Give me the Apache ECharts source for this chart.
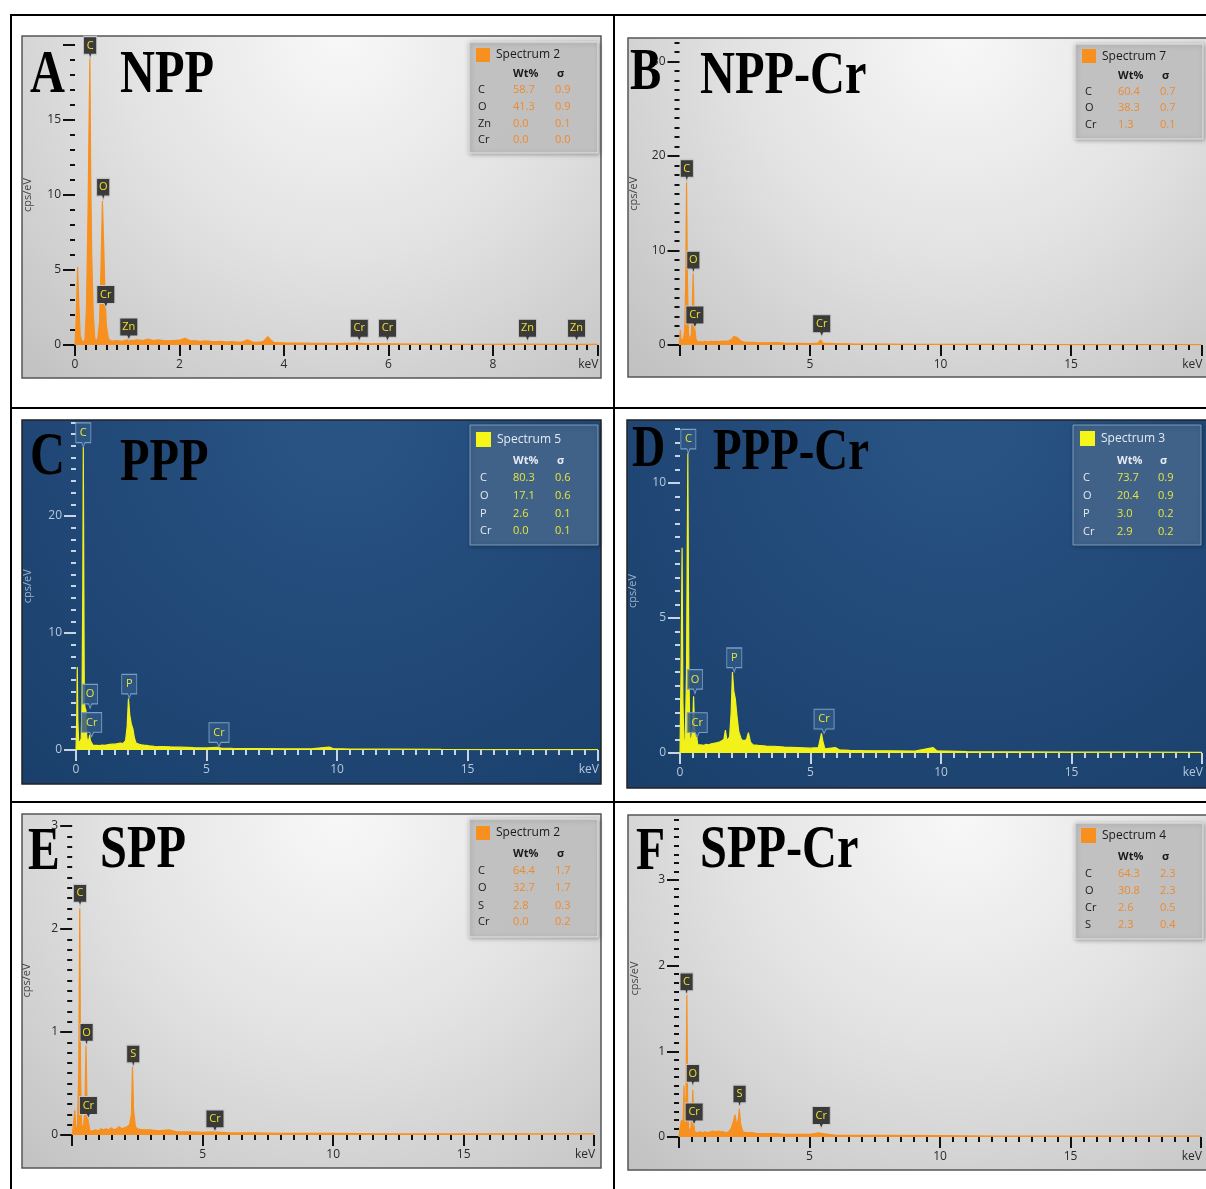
<!DOCTYPE html>
<html><head><meta charset="utf-8">
<script src="https://cdn.jsdelivr.net/npm/echarts@6/dist/echarts.min.js"></script>
<style>html,body{margin:0;padding:0;background:#fff}#c{width:1206px;height:1189px}</style>
</head><body><div id="c"></div>
<script>
// ---------------- DATA ----------------
const panelLetters = ['A','B','C','D','E','F'];
const panelNames = ['NPP','NPP-Cr','PPP','PPP-Cr','SPP','SPP-Cr'];
const spectrumNames = ['Spectrum 2','Spectrum 7','Spectrum 5','Spectrum 3','Spectrum 2','Spectrum 4'];

const xMax = [10,20,20,20,20,20];
const xStep = [2,5,5,5,5,5];
const xLabels = [[0,2,4,6,8],[5,10,15],[0,5,10,15],[0,5,10,15],[5,10,15],[5,10,15]];
const yMax = [20,32,28,12,3,3.7];
const yMajor = [[0,5,10,15,20],[0,10,20,30],[0,10,20],[0,5,10],[0,1,2,3],[0,1,2,3]];
const yLabels = [[0,5,10,15],[0,10,20,30],[0,10,20],[0,5,10],[0,1,2,3],[0,1,2,3]];
const yMinorStep = [1,1,1,0.5,0.1,0.1];

// spectra: [keV, cps/eV]
const specA = [[0,0],[0.02,1.5],[0.05,5.2],[0.07,3.0],[0.1,0.6],[0.14,0.2],[0.19,0.3],[0.22,2.5],[0.25,9],[0.27,15],[0.285,19.1],[0.3,11.5],[0.32,6],[0.35,2],[0.38,0.4],[0.43,0.3],[0.47,1.5],[0.5,5.5],[0.525,9.6],[0.55,6.5],[0.575,3.2],[0.6,1.3],[0.64,0.4],[0.7,0.25],[0.8,0.3],[0.9,0.25],[1.0,0.35],[1.1,0.3],[1.2,0.35],[1.3,0.3],[1.4,0.4],[1.5,0.3],[1.6,0.35],[1.7,0.3],[1.8,0.28],[1.9,0.3],[2.0,0.32],[2.1,0.45],[2.2,0.3],[2.3,0.28],[2.4,0.25],[2.5,0.27],[2.6,0.24],[2.7,0.22],[2.8,0.24],[2.9,0.2],[3.0,0.22],[3.1,0.2],[3.2,0.2],[3.3,0.35],[3.4,0.2],[3.5,0.18],[3.6,0.22],[3.65,0.4],[3.69,0.55],[3.74,0.35],[3.8,0.18],[3.9,0.16],[4.0,0.15],[4.5,0.12],[5.0,0.1],[5.41,0.12],[5.6,0.08],[6.0,0.08],[6.5,0.06],[7.0,0.06],[7.5,0.05],[8.0,0.05],[8.6,0.06],[9.0,0.04],[9.6,0.05],[10,0.04]];
const specB = [[0,0],[0.03,1.6],[0.06,0.5],[0.1,0.4],[0.15,0.6],[0.2,1.5],[0.24,7],[0.27,17.2],[0.3,7.5],[0.34,1.2],[0.4,0.5],[0.46,1.2],[0.5,5],[0.525,7.6],[0.55,4],[0.59,1.6],[0.63,0.6],[0.7,0.3],[0.8,0.35],[0.9,0.3],[1.0,0.38],[1.1,0.32],[1.2,0.38],[1.3,0.35],[1.4,0.4],[1.5,0.36],[1.6,0.4],[1.7,0.38],[1.8,0.42],[1.9,0.45],[2.0,0.6],[2.08,0.9],[2.13,1.05],[2.2,0.8],[2.3,0.55],[2.4,0.35],[2.5,0.3],[2.7,0.28],[3.0,0.25],[3.3,0.24],[3.7,0.26],[4.0,0.2],[4.5,0.18],[5.0,0.16],[5.3,0.2],[5.41,0.55],[5.5,0.2],[5.95,0.15],[6.5,0.12],[7,0.1],[8,0.09],[9,0.08],[10,0.07],[12,0.06],[14,0.05],[16,0.04],[18,0.04],[20,0.03]];
const specC = [[0,0],[0.03,3],[0.05,7.1],[0.07,2.5],[0.1,0.8],[0.15,0.6],[0.2,1.0],[0.23,4],[0.26,14],[0.28,25.9],[0.3,14],[0.32,4],[0.35,3.6],[0.38,3.4],[0.41,1.2],[0.45,0.6],[0.5,1.0],[0.525,1.3],[0.55,0.8],[0.6,0.9],[0.65,0.4],[0.7,0.35],[0.8,0.4],[0.9,0.38],[1.0,0.42],[1.1,0.4],[1.2,0.45],[1.3,0.48],[1.4,0.5],[1.5,0.5],[1.6,0.55],[1.7,0.6],[1.75,0.7],[1.8,0.55],[1.9,0.8],[1.96,2.0],[2.01,4.4],[2.06,3.0],[2.12,2.2],[2.18,1.8],[2.24,1.0],[2.3,0.6],[2.4,0.5],[2.5,0.45],[2.6,0.42],[2.7,0.4],[2.8,0.36],[3.0,0.32],[3.3,0.3],[3.6,0.27],[4.0,0.24],[4.5,0.2],[5.0,0.18],[5.41,0.22],[5.6,0.15],[6.0,0.14],[7.0,0.12],[8.0,0.1],[9.0,0.1],[9.7,0.25],[9.85,0.12],[10.5,0.08],[12,0.07],[14,0.05],[16,0.04],[18,0.03],[20,0.03]];
const specD = [[0,0],[0.04,3],[0.08,7.6],[0.11,2],[0.15,0.4],[0.2,0.5],[0.25,3],[0.3,11.1],[0.34,3],[0.38,0.6],[0.43,0.4],[0.48,0.9],[0.52,2.1],[0.56,0.9],[0.6,0.5],[0.64,0.6],[0.68,0.3],[0.8,0.3],[0.9,0.28],[1.0,0.32],[1.1,0.3],[1.2,0.34],[1.3,0.36],[1.4,0.38],[1.5,0.4],[1.6,0.45],[1.68,0.5],[1.74,0.85],[1.8,0.45],[1.9,0.6],[1.96,1.5],[2.01,3.0],[2.06,2.3],[2.12,2.0],[2.18,1.4],[2.25,0.8],[2.35,0.5],[2.45,0.45],[2.55,0.5],[2.62,0.75],[2.7,0.4],[2.8,0.3],[3.0,0.28],[3.3,0.26],[3.6,0.25],[4.0,0.22],[4.5,0.2],[5.0,0.18],[5.3,0.2],[5.37,0.5],[5.42,0.73],[5.47,0.45],[5.55,0.15],[5.95,0.2],[6.1,0.12],[6.5,0.1],[7,0.09],[8,0.08],[9,0.07],[9.7,0.2],[9.85,0.08],[11,0.05],[13,0.04],[15,0.03],[17,0.03],[20,0.02]];
const specE = [[0,0],[0.05,0.1],[0.1,0.24],[0.14,0.06],[0.2,0.08],[0.25,0.6],[0.29,2.2],[0.32,0.6],[0.36,0.1],[0.42,0.06],[0.48,0.2],[0.53,0.87],[0.57,0.25],[0.62,0.12],[0.68,0.04],[0.8,0.04],[0.9,0.05],[1.0,0.04],[1.1,0.06],[1.2,0.05],[1.3,0.06],[1.4,0.05],[1.5,0.07],[1.6,0.05],[1.7,0.06],[1.8,0.08],[1.9,0.06],[2.0,0.07],[2.1,0.08],[2.2,0.1],[2.27,0.2],[2.31,0.66],[2.35,0.25],[2.42,0.08],[2.5,0.06],[2.7,0.05],[3.0,0.05],[3.3,0.04],[3.7,0.05],[4.0,0.03],[4.5,0.03],[5.0,0.025],[5.41,0.03],[6,0.02],[7,0.02],[8,0.015],[10,0.015],[12,0.01],[15,0.01],[20,0.01]];
const specF = [[0,0],[0.05,0.12],[0.1,0.2],[0.15,0.1],[0.19,0.6],[0.23,0.12],[0.27,0.5],[0.3,1.66],[0.33,0.4],[0.37,0.1],[0.45,0.08],[0.5,0.25],[0.53,0.55],[0.56,0.2],[0.6,0.06],[0.7,0.05],[0.8,0.06],[0.9,0.05],[1.0,0.06],[1.1,0.05],[1.2,0.06],[1.3,0.07],[1.4,0.06],[1.5,0.07],[1.6,0.06],[1.7,0.06],[1.8,0.05],[1.9,0.06],[2.0,0.1],[2.1,0.2],[2.15,0.26],[2.2,0.15],[2.27,0.2],[2.31,0.33],[2.36,0.15],[2.45,0.06],[2.6,0.05],[2.8,0.05],[3.0,0.04],[3.3,0.04],[3.7,0.04],[4.0,0.03],[4.5,0.03],[5.0,0.03],[5.35,0.05],[5.42,0.07],[5.5,0.04],[6,0.02],[7,0.02],[8,0.02],[10,0.015],[12,0.01],[15,0.01],[20,0.01]];

// peak markers: [element, keV, cps/eV at pointer tip]
const peaksA = [['C',0.29,19.1],['O',0.54,9.65],['Cr',0.59,2.5],['Zn',1.03,0.33],['Cr',5.44,0.25],['Cr',5.98,0.25],['Zn',8.66,0.25],['Zn',9.6,0.25]];
const peaksB = [['C',0.28,17.3],['O',0.53,7.6],['Cr',0.59,1.8],['Cr',5.45,0.88]];
const peaksC = [['C',0.28,25.9],['O',0.54,3.56],['Cr',0.6,1.14],['P',2.04,4.42],['Cr',5.48,0.28]];
const peaksD = [['C',0.32,11.1],['O',0.575,2.2],['Cr',0.66,0.6],['P',2.08,3.0],['Cr',5.52,0.73]];
const peaksE = [['C',0.3,2.22],['O',0.55,0.87],['Cr',0.62,0.16],['S',2.34,0.66],['Cr',5.47,0.03]];
const peaksF = [['C',0.29,1.66],['O',0.53,0.59],['Cr',0.58,0.14],['S',2.32,0.35],['Cr',5.45,0.1]];

// quantification tables: [element, Wt%, sigma]
const tableA = [['C','58.7','0.9'],['O','41.3','0.9'],['Zn','0.0','0.1'],['Cr','0.0','0.0']];
const tableB = [['C','60.4','0.7'],['O','38.3','0.7'],['Cr','1.3','0.1']];
const tableC = [['C','80.3','0.6'],['O','17.1','0.6'],['P','2.6','0.1'],['Cr','0.0','0.1']];
const tableD = [['C','73.7','0.9'],['O','20.4','0.9'],['P','3.0','0.2'],['Cr','2.9','0.2']];
const tableE = [['C','64.4','1.7'],['O','32.7','1.7'],['S','2.8','0.3'],['Cr','0.0','0.2']];
const tableF = [['C','64.3','2.3'],['O','30.8','2.3'],['Cr','2.6','0.5'],['S','2.3','0.4']];

const spectra = [specA,specB,specC,specD,specE,specF];
const peaks = [peaksA,peaksB,peaksC,peaksD,peaksE,peaksF];
const tables = [tableA,tableB,tableC,tableD,tableE,tableF];

// ---------------- LAYOUT ----------------
const P = [
 {box:[22,36,579,342], grid:[75,45,522.5,300], dark:false, nameGap:42,
  leg:{box:[469,42,129,111], sq:[476,48,14], title:55, header:74, rows:[90,107,124,140], nx:478, vx:513, sx:555},
  letter:[30,76,62], name:[120,76,62]},
 {box:[628,38,600,339], grid:[679.5,42.6,522,302.4], dark:false, nameGap:40,
  leg:{box:[1075,44,128,95], sq:[1082,49,14], title:57, header:76, rows:[92,108,125], nx:1085, vx:1118, sx:1160},
  letter:[630,73,60], name:[700,77,62]},
 {box:[22,420,579,364], grid:[76,422.4,522,327.6], dark:true, nameGap:43,
  leg:{box:[470,425,128,120], sq:[476,432,15], title:440, header:461, rows:[478,496,514,531], nx:480, vx:513, sx:555},
  letter:[30,458,62], name:[120,464,62]},
 {box:[627,420,600,368], grid:[680,429,522,324], dark:true, nameGap:42,
  leg:{box:[1073,425,128,120], sq:[1080,431,15], title:439, header:461, rows:[478,496,514,532], nx:1083, vx:1117, sx:1158},
  letter:[632,451,59], name:[713,453,60]},
 {box:[22,814,579,354], grid:[72.2,826,522,309], dark:false, nameGap:40,
  leg:{box:[469,819,129,118], sq:[476,826,14], title:833, header:854, rows:[871,888,906,922], nx:478, vx:513, sx:555},
  letter:[28,853,61], name:[100,851,62]},
 {box:[628,815,600,355], grid:[679,820,522,317], dark:false, nameGap:39,
  leg:{box:[1075,823,128,116], sq:[1081,828,15], title:836, header:857, rows:[874,891,908,925], nx:1085, vx:1118, sx:1160},
  letter:[636,853,61], name:[700,851,62]}
];

const LIGHT = {tick:'#111', label:'#2a2a2a', name:'#444', line:'#f7901e', sq:'#f7901e', val:'#ef8a2c', txt:'#1a1a1a',
  mfill:'#3a3a3a', mborder:'#c8c8c8', mtext:'#ece02a',
  bg:{type:'radial', x:0.55, y:0.0, r:1.45, colorStops:[{offset:0,color:'#f8f8f8'},{offset:0.45,color:'#e2e2e2'},{offset:1,color:'#bdbdbd'}]},
  legFill:'rgba(196,196,196,0.9)', legStroke:'#e6e6e6', border:'#555'};
const DARK = {tick:'#c6d4e4', label:'#b7c7da', name:'#9fb3cb', line:'#f2f21a', sq:'#f5f51a', val:'#e6e63a', txt:'#e4ebf3',
  mfill:'rgba(48,88,132,0.85)', mborder:'#7b9fc4', mtext:'#eae43a',
  bg:{type:'radial', x:0.55, y:0.0, r:1.45, colorStops:[{offset:0,color:'#295585'},{offset:0.5,color:'#214877'},{offset:1,color:'#183d68'}]},
  legFill:'rgba(72,106,146,0.85)', legStroke:'#7a9cc0', border:'#222'};

const FONT = '"Open Sans", "Noto Sans", sans-serif';
const grids = [], xAxes = [], yAxes = [], series = [], els = [];

P.forEach((L, i) => {
  const c = L.dark ? DARK : LIGHT;
  grids.push({left:L.grid[0], top:L.grid[1], width:L.grid[2], height:L.grid[3], containLabel:false, outerBoundsMode:'none'});
  xAxes.push({type:'value', gridIndex:i, min:0, max:xMax[i], interval:xStep[i],
    axisLine:{show:false}, splitLine:{show:false},
    axisTick:{show:true, length:11, lineStyle:{color:c.tick, width:2}},
    minorTick:{show:true, splitNumber:10, length:5, lineStyle:{color:c.tick, width:2}},
    axisLabel:{customValues:xLabels[i], color:c.label, fontSize:12, fontFamily:FONT, margin:14}
  });
  yAxes.push({type:'value', gridIndex:i, min:0, max:yMax[i], interval:yMinorStep[i], position:'left',
    axisLine:{show:false}, splitLine:{show:false},
    axisTick:{show:true, length:12, customValues:yMajor[i], lineStyle:{color:c.tick, width:2}},
    axisLabel:{customValues:yLabels[i], color:c.label, fontSize:12, fontFamily:FONT, margin:14},
    name:'cps/eV', nameLocation:'middle', nameGap:L.nameGap, nameRotate:90,
    nameTextStyle:{color:c.name, fontSize:11, fontFamily:FONT}
  });
  yAxes.push({type:'value', gridIndex:i, min:0, max:yMax[i], interval:yMinorStep[i], position:'left',
    axisLine:{show:false}, splitLine:{show:false}, axisLabel:{show:false},
    axisTick:{show:true, length:5, lineStyle:{color:c.tick, width:2}}
  });
  series.push({type:'line', xAxisIndex:i, yAxisIndex:2*i, data:spectra[i], symbol:'none', smooth:false,
    lineStyle:{color:c.line, width:1.2}, areaStyle:{color:c.line, opacity:1}, itemStyle:{color:c.line},
    markPoint:{
      symbol:'path://M0,0H20V18H12L10,22L8,18H0Z', symbolOffset:[0,'-50%'],
      itemStyle:{color:c.mfill, borderColor:c.mborder, borderWidth:1},
      label:{show:true, formatter:'{b}', color:c.mtext, fontSize:11, fontFamily:FONT, offset:[0,-2]},
      data: peaks[i].map(p => ({name:p[0], coord:[p[1], p[2]],
        symbolSize:[p[0].length > 1 ? (L.dark ? 20 : 18) : (L.dark ? 15 : 13), L.dark ? 24 : 22]}))
    }
  });

  // panel background
  els.push({type:'rect', z:-10, shape:{x:L.box[0], y:L.box[1], width:L.box[2], height:L.box[3]},
    style:{fill:c.bg, stroke:c.border, lineWidth:1.5}});
  // keV label
  els.push({type:'text', z:10, x:L.grid[0] + L.grid[2] + 1, y:L.grid[1] + L.grid[3] + 14,
    style:{text:'keV', fill:c.label, font:'12px ' + FONT, align:'right', verticalAlign:'top'}});
  // legend table
  const g = L.leg;
  els.push({type:'rect', z:20, shape:{x:g.box[0], y:g.box[1], width:g.box[2], height:g.box[3]},
    style:{fill:c.legFill, stroke:c.legStroke, lineWidth:1, shadowBlur:4, shadowColor:'rgba(0,0,0,0.35)', shadowOffsetX:1, shadowOffsetY:1}});
  els.push({type:'rect', z:21, shape:{x:g.sq[0], y:g.sq[1], width:g.sq[2], height:g.sq[2]}, style:{fill:c.sq}});
  els.push({type:'text', z:21, x:g.sq[0] + g.sq[2] + 6, y:g.title,
    style:{text:spectrumNames[i], fill:c.txt, font:'12px ' + FONT, verticalAlign:'middle'}});
  els.push({type:'text', z:21, x:g.vx, y:g.header, style:{text:'Wt%', fill:c.txt, font:'bold 11px ' + FONT, verticalAlign:'middle'}});
  els.push({type:'text', z:21, x:g.sx + 2, y:g.header, style:{text:'σ', fill:c.txt, font:'bold 11px ' + FONT, verticalAlign:'middle'}});
  tables[i].forEach((r, k) => {
    els.push({type:'text', z:21, x:g.nx, y:g.rows[k], style:{text:r[0], fill:c.txt, font:'11px ' + FONT, verticalAlign:'middle'}});
    els.push({type:'text', z:21, x:g.vx, y:g.rows[k], style:{text:r[1], fill:c.val, font:'11px ' + FONT, verticalAlign:'middle'}});
    els.push({type:'text', z:21, x:g.sx, y:g.rows[k], style:{text:r[2], fill:c.val, font:'11px ' + FONT, verticalAlign:'middle'}});
  });
  // big panel titles
  els.push({type:'text', z:100, x:L.letter[0], y:L.letter[1], scaleX:0.78,
    style:{text:panelLetters[i], fill:'#000', font:'bold ' + L.letter[2] + 'px "Liberation Serif", "Times New Roman", serif', verticalAlign:'middle'}});
  els.push({type:'text', z:100, x:L.name[0], y:L.name[1], scaleX:0.78,
    style:{text:panelNames[i], fill:'#000', font:'bold ' + L.name[2] + 'px "Liberation Serif", "Times New Roman", serif', verticalAlign:'middle'}});
});

// outer black frame lines
[[11,15,11,1189],[614,15,614,1189],[10,15,1206,15],[10,408,1206,408],[10,802,1206,802]].forEach(s => {
  els.push({type:'line', z:110, shape:{x1:s[0], y1:s[1], x2:s[2], y2:s[3]}, style:{stroke:'#000', lineWidth:2}});
});

const chart = echarts.init(document.getElementById('c'), null, {renderer:'canvas', width:1206, height:1189});
chart.setOption({animation:false, backgroundColor:'#fff', grid:grids, xAxis:xAxes, yAxis:yAxes, series:series,
  graphic:{elements:els}, tooltip:{show:false}});
</script></body></html>
